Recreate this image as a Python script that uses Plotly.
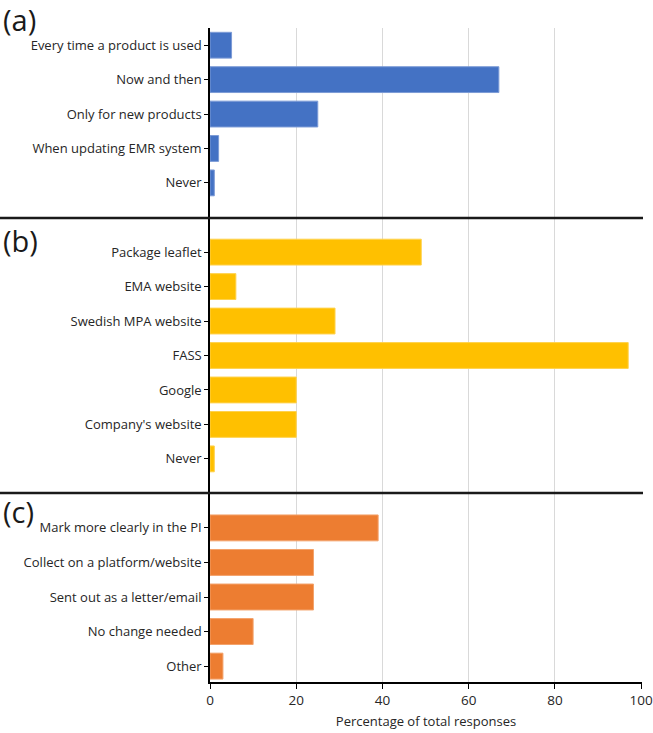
import plotly.graph_objects as go

# ---- data ----
cats_a = ["Every time a product is used", "Now and then", "Only for new products",
          "When updating EMR system", "Never"]
vals_a = [5, 67, 25, 2, 1]

cats_b = ["Package leaflet", "EMA website", "Swedish MPA website", "FASS",
          "Google", "Company's website", "Never"]
vals_b = [49, 6, 29, 97, 20, 20, 1]

cats_c = ["Mark more clearly in the PI", "Collect on a platform/website",
          "Sent out as a letter/email", "No change needed", "Other"]
vals_c = [39, 24, 24, 10, 3]

panel_labels = ["(a)", "(b)", "(c)"]
x_ticks = [0, 20, 40, 60, 80, 100]
x_title = "Percentage of total responses"

colors = ["#4472C4", "#FFC000", "#ED7D31"]
edge = ["#7C9BD6", "#FFD24D", "#F3A26B"]

W, H = 653, 733
FONT = "Open Sans"

def px(x):
    return x / W

def py(y):
    return 1 - y / H

fig = go.Figure()
for i, (cats, vals) in enumerate([(cats_a, vals_a), (cats_b, vals_b), (cats_c, vals_c)]):
    sfx = "" if i == 0 else str(i + 1)
    fig.add_trace(go.Bar(
        x=vals, y=cats, orientation="h", width=0.75,
        marker=dict(color=colors[i], line=dict(color=edge[i], width=1)),
        xaxis="x" + sfx, yaxis="y" + sfx, showlegend=False,
    ))

xdom = [px(210), px(642)]
ydoms = [[py(218), py(28)], [py(493), py(218)], [py(682), py(493)]]
yranges = [[5.02, -0.5], [6.99, -0.99], [4.46, -1.01]]

layout = dict(
    width=W, height=H,
    margin=dict(l=0, r=0, t=0, b=0),
    paper_bgcolor="white", plot_bgcolor="white",
    font=dict(family=FONT, size=13, color="#262626"),
    bargap=0.25,
)
for i in range(3):
    sfx = "" if i == 0 else str(i + 1)
    last = i == 2
    layout["xaxis" + sfx] = dict(
        domain=xdom, range=[0, 100.2], anchor="y" + sfx,
        tickvals=x_ticks, showgrid=True, gridcolor="#D9D9D9", gridwidth=1,
        zeroline=False,
        showticklabels=last, showline=last, linecolor="black", linewidth=1.5,
        ticks="outside" if last else "", ticklen=5, tickcolor="black",
        tickfont=dict(size=13.5, family=FONT, color="#262626"),
        title=dict(text=x_title, font=dict(size=13, family=FONT, color="#262626"), standoff=9) if last else None,
        automargin=False, fixedrange=True,
    )
    layout["yaxis" + sfx] = dict(
        domain=ydoms[i], range=yranges[i], type="category", anchor="x" + sfx,
        showline=True, linecolor="black", linewidth=1.5,
        ticks="outside", ticklen=4, tickcolor="black",
        tickfont=dict(size=13, family=FONT, color="#262626"),
        showgrid=False, zeroline=False, automargin=False, fixedrange=True,
    )
fig.update_layout(**layout)

# separators
for y in [218, 493]:
    fig.add_shape(type="line", xref="paper", yref="paper",
                  x0=0, x1=px(643), y0=py(y), y1=py(y),
                  line=dict(color="#1A1A1A", width=2.5))

# panel labels
for lab, yc in zip(panel_labels, [20, 241, 511]):
    fig.add_annotation(text=lab, xref="paper", yref="paper", x=px(1), y=py(yc),
                       xanchor="left", yanchor="middle", showarrow=False,
                       font=dict(size=29, family=FONT, color="#1A1A1A"))

fig.write_html("out.html", config={"displayModeBar": False},
               post_script="document.body.style.margin='0';document.body.style.overflow='hidden';")
